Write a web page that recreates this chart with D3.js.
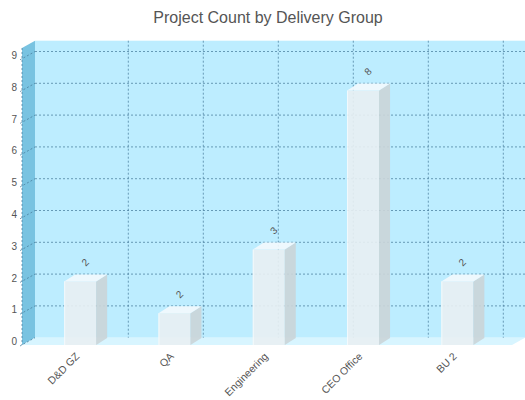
<!DOCTYPE html>
<html>
  <head>
    <style>
    body { margin: 0; background: #fff; }
    text { font-family: Arial, "Liberation Sans", sans-serif; fill: #555; }
    .grid { stroke: #4a7f9e; stroke-width: 1; stroke-dasharray: 2,2; opacity: 0.75; }
    </style>
  </head>
  <body>

    <svg width="525" height="400"></svg>

    <script src="https://cdn.jsdelivr.net/npm/d3@7/dist/d3.min.js"></script>
    <script>

      const categories = ['D&D GZ', 'QA', 'Engineering', 'CEO Office', 'BU 2']
      const counts = [2, 1, 3, 8, 2]
      const valueLabels = ['2', '2', '3', '8', '2']
      const yTicks = [0, 1, 2, 3, 4, 5, 6, 7, 8, 9]

      const svg = d3.select('svg')

      // 3d depth of the walls and of the bars
      const wallDx = 13, wallDy = -7.3
      const barDx = 11, barDy = -7
      const left = 22, right = 512
      const floorY = 345

      const y = d3.scaleLinear().domain([0, 9.34]).range([floorY, 48])
      const x = d3.scaleBand().domain(categories).range([33, 504.5])
      const barW = 32

      svg.append('text')
        .attr('x', 268).attr('y', 23)
        .attr('text-anchor', 'middle')
        .style('font-size', '16px')
        .text('Project Count by Delivery Group')

      // back wall
      const wallTop = y(9.34) + wallDy
      const wallBottom = y(0) + wallDy
      svg.append('rect')
        .attr('x', left + wallDx).attr('y', wallTop)
        .attr('width', right - left).attr('height', wallBottom - wallTop)
        .attr('fill', '#bdedff')

      // left wall
      svg.append('polygon')
        .attr('points', [[left, y(9.34)], [left + wallDx, wallTop], [left + wallDx, wallBottom], [left, y(0)]].join(' '))
        .attr('fill', '#79c3e1')

      // floor
      svg.append('polygon')
        .attr('points', [[left, y(0)], [left + wallDx, wallBottom], [right + wallDx, wallBottom], [right, y(0)]].join(' '))
        .attr('fill', '#d8f5ff')

      // horizontal grid on back wall + slanted ticks on the side wall
      svg.selectAll('.hgrid')
        .data(yTicks.filter(d => d > 0))
        .enter().append('line')
          .attr('class', 'grid')
          .attr('x1', left + wallDx).attr('x2', right + wallDx)
          .attr('y1', d => y(d) + wallDy).attr('y2', d => y(d) + wallDy)

      svg.selectAll('.sgrid')
        .data(yTicks)
        .enter().append('line')
          .attr('class', 'grid')
          .attr('x1', left - 2).attr('x2', left + wallDx)
          .attr('y1', d => y(d) + 1).attr('y2', d => y(d) + wallDy)

      svg.append('line')
        .attr('class', 'grid')
        .attr('x1', left).attr('x2', left)
        .attr('y1', y(9.34)).attr('y2', y(0))

      // vertical divisions
      svg.selectAll('.vgrid')
        .data(d3.range(6))
        .enter().append('line')
          .attr('class', 'grid')
          .attr('x1', d => 128.3 + d * 75).attr('x2', d => 128.3 + d * 75)
          .attr('y1', wallTop).attr('y2', wallBottom)

      svg.selectAll('.ytick')
        .data(yTicks)
        .enter().append('text')
          .attr('x', 17)
          .attr('y', d => y(d) - 3.4)
          .attr('dy', '0.35em')
          .attr('text-anchor', 'end')
          .style('font-size', '10px')
          .text(d => d)

      // bars
      const data = categories.map((c, i) => ({ cat: c, v: counts[i], label: valueLabels[i] }))
      const bar = svg.selectAll('.bar')
        .data(data)
        .enter().append('g')
          .attr('class', 'bar')
          .attr('opacity', 0.9)

      const bx = d => x(d.cat) + x.bandwidth() / 2 - barW / 2

      bar.append('rect')
        .attr('x', bx)
        .attr('y', d => y(d.v))
        .attr('width', barW)
        .attr('height', d => y(0) - y(d.v))
        .attr('fill', '#e9f0f3')

      bar.append('polygon')
        .attr('points', d => {
          const x1 = bx(d) + barW
          return [[x1, y(d.v)], [x1 + barDx, y(d.v) + barDy], [x1 + barDx, y(0) + barDy], [x1, y(0)]].join(' ')
        })
        .attr('fill', '#cbd5d9')

      bar.append('polygon')
        .attr('points', d => {
          const x0 = bx(d)
          return [[x0, y(d.v)], [x0 + barDx, y(d.v) + barDy], [x0 + barW + barDx, y(d.v) + barDy], [x0 + barW, y(d.v)]].join(' ')
        })
        .attr('fill', '#f4fafd')

      bar.append('line')
        .attr('x1', d => bx(d) + 0.5).attr('x2', d => bx(d) + 0.5)
        .attr('y1', d => y(d.v)).attr('y2', y(0))
        .attr('stroke', '#f7fbfd')

      // value labels
      svg.selectAll('.vlabel')
        .data(data)
        .enter().append('text')
          .attr('transform', d => 'translate(' + (x(d.cat) + x.bandwidth() / 2 + 5) + ',' + (y(d.v) + barDy - 12) + ') rotate(-45)')
          .attr('text-anchor', 'middle')
          .attr('dy', '0.35em')
          .style('font-size', '10px')
          .text(d => d.label)

      // category labels
      svg.selectAll('.xlabel')
        .data(categories)
        .enter().append('text')
          .attr('transform', d => 'translate(' + (x(d) + x.bandwidth() / 2) + ',' + 357 + ') rotate(-45)')
          .attr('text-anchor', 'end')
          .style('font-size', '10.5px')
          .text(d => d)

    </script>
  </body>
</html>
